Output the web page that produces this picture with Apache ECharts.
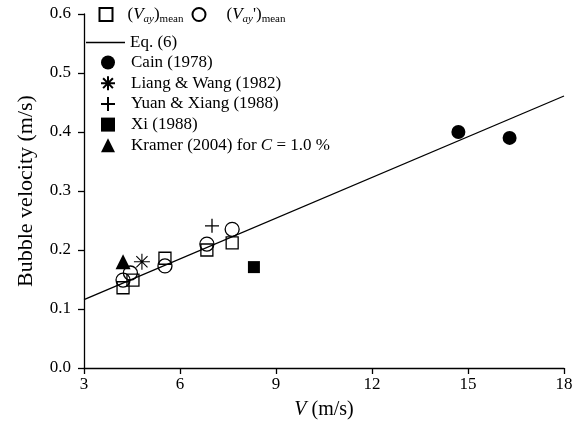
<!DOCTYPE html>
<html>
<head>
<meta charset="utf-8">
<script src="https://cdn.jsdelivr.net/npm/echarts@6/dist/echarts.min.js"></script>
<style>html,body{margin:0;padding:0;background:#fff}#c{width:576px;height:430px}</style>
</head>
<body>
<div id="c"></div>
<script>
// Data
const xTicks = [3, 6, 9, 12, 15, 18];
const yTicks = [0.0, 0.1, 0.2, 0.3, 0.4, 0.5, 0.6];
const vayMean = [[4.22, 0.136], [4.53, 0.149], [5.53, 0.186], [6.84, 0.200], [7.63, 0.212]];
const vayPrimeMean = [[4.22, 0.149], [4.45, 0.161], [5.53, 0.173], [6.84, 0.210], [7.63, 0.235]];
const eq6 = [[3, 0.116], [18, 0.461]];
const cain = [[14.7, 0.400], [16.3, 0.390]];
const liangWang = [[4.81, 0.180]];
const yuanXiang = [[7.0, 0.241]];
const xi = [[8.31, 0.171]];
const kramer = [[4.22, 0.180]];

const FONT = '"Liberation Serif", "Times New Roman", serif';
const black = '#000';
const rich = {
  i: { fontFamily: FONT, fontSize: 17, fontStyle: 'italic', color: black },
  si: { fontFamily: FONT, fontSize: 11, fontStyle: 'italic', color: black, padding: [10, 0, 0, 0] },
  s: { fontFamily: FONT, fontSize: 11, color: black, padding: [10, 0, 0, 0] },
  n: { fontFamily: FONT, fontSize: 17, color: black },
  g1: { width: 10 }, g2: { width: 16 }, g3: { width: 11 }
};
const names = {
  a: '(V_ay)_mean', b: "(V_ay')_mean", eq: 'Eq. (6)', cain: 'Cain (1978)',
  lw: 'Liang & Wang (1982)', yx: 'Yuan & Xiang (1988)', xi: 'Xi (1988)', kr: 'Kramer (2004) for C = 1.0 %'
};
const fmt = function (n) {
  if (n === names.a) return '{g1|}{n|(}{i|V}{si|ay}{n|)}{s|mean}';
  if (n === names.b) return "{g2|}{n|(}{i|V}{si|ay}{n|')}{s|mean}";
  if (n === names.eq) return '{n|' + n + '}';
  if (n === names.kr) return '{g3|}{n|Kramer (2004) for }{i|C}{n| = 1.0 %}';
  return '{g3|}{n|' + n + '}';
};
const hollow = { color: 'rgba(0,0,0,0)', borderColor: black, borderWidth: 1.3, opacity: 1 };
const solid = { color: black, opacity: 1 };
const starPath = 'path://M0,5L10,5M5,0L5,10M1.5,1.5L8.5,8.5M8.5,1.5L1.5,8.5';
const plusPath = 'path://M0,5L10,5M5,0L5,10';

const legendBase = {
  padding: 0, itemHeight: 13, itemWidth: 13,
  textStyle: { fontFamily: FONT, fontSize: 17, color: black, rich: rich },
  formatter: fmt, selectedMode: false
};

const option = {
  backgroundColor: '#fff',
  animation: false,
  grid: { left: 84, right: 12, top: 14, bottom: 62 },
  legend: [
    Object.assign({}, legendBase, { left: 98.5, top: 6, data: [names.a] }),
    Object.assign({}, legendBase, { left: 191.5, top: 6, data: [names.b] }),
    Object.assign({}, legendBase, { left: 86, top: 34, itemWidth: 39, itemHeight: 1.5,
      data: [{ name: names.eq, icon: 'rect', itemStyle: { color: black } }] }),
    Object.assign({}, legendBase, { left: 100, top: 54, orient: 'vertical', itemGap: 3.7, itemWidth: 14, itemHeight: 14,
      data: [names.cain, names.lw, names.yx, names.xi, names.kr] })
  ],
  xAxis: {
    type: 'value', min: xTicks[0], max: xTicks[xTicks.length - 1], interval: 3,
    name: '{i|V}{n| (m/s)}', nameLocation: 'middle', nameGap: 32,
    nameTextStyle: { rich: { i: { fontFamily: FONT, fontSize: 20, fontStyle: 'italic', color: black }, n: { fontFamily: FONT, fontSize: 20, color: black } } },
    axisLine: { show: true, onZero: false, lineStyle: { color: black, width: 1.3 } },
    axisTick: { show: true, inside: false, length: 6, lineStyle: { color: black, width: 1.3 } },
    axisLabel: { fontFamily: FONT, fontSize: 17, color: black, margin: 8 },
    splitLine: { show: false }
  },
  yAxis: {
    type: 'value', min: yTicks[0], max: yTicks[yTicks.length - 1], interval: 0.1,
    name: 'Bubble velocity (m/s)', nameLocation: 'middle', nameGap: 47,
    nameTextStyle: { fontFamily: FONT, fontSize: 22, color: black },
    axisLine: { show: true, onZero: false, lineStyle: { color: black, width: 1.3 } },
    axisTick: { show: true, inside: false, length: 6, lineStyle: { color: black, width: 1.3 } },
    axisLabel: { fontFamily: FONT, fontSize: 17, color: black, margin: 13, formatter: v => v.toFixed(1) },
    splitLine: { show: false }
  },
  series: [
    { name: names.eq, type: 'line', data: eq6, symbol: 'none', lineStyle: { color: black, width: 1.3 }, itemStyle: { color: black }, z: 1 },
    { name: names.a, type: 'scatter', data: vayMean, symbol: 'rect', symbolSize: 12, itemStyle: hollow, z: 3 },
    { name: names.b, type: 'scatter', data: vayPrimeMean, symbol: 'circle', symbolSize: 14, itemStyle: hollow, z: 3 },
    { name: names.cain, type: 'scatter', data: cain, symbol: 'circle', symbolSize: 14, itemStyle: solid },
    { name: names.lw, type: 'scatter', data: liangWang, symbol: starPath, symbolSize: 16, itemStyle: { color: 'rgba(0,0,0,0)', borderColor: black, borderWidth: 1.1, opacity: 1 } },
    { name: names.yx, type: 'scatter', data: yuanXiang, symbol: plusPath, symbolSize: 14, itemStyle: { color: 'rgba(0,0,0,0)', borderColor: black, borderWidth: 1.3, opacity: 1 } },
    { name: names.xi, type: 'scatter', data: xi, symbol: 'rect', symbolSize: 12, itemStyle: solid },
    { name: names.kr, type: 'scatter', data: kramer, symbol: 'triangle', symbolSize: 15, itemStyle: solid }
  ]
};
const chart = echarts.init(document.getElementById('c'), null, { renderer: 'canvas' });
chart.setOption(option);
</script>
</body>
</html>
